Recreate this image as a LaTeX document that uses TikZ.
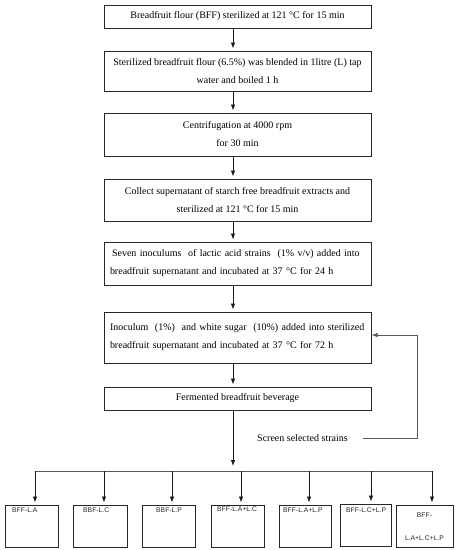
\documentclass[tikz,border=0pt]{standalone}
\usepackage{fontspec}
\setmainfont{Liberation Serif}
\newfontfamily\arialf{Liberation Sans}
\usetikzlibrary{arrows.meta}
\begin{document}
\begin{tikzpicture}[x=1pt,y=-1pt,
 mbox/.style={draw=black!85, line width=1pt, minimum width=267pt, inner sep=0pt, font=\fontsize{10}{18}\selectfont, align=center},
 lbox/.style={mbox, align=left, text width=255pt, inner xsep=6pt},
 sbox/.style={draw=black!85, line width=1pt, inner sep=0pt, minimum height=42pt},
 stxt/.style={font=\arialf\fontsize{6.8}{8}\selectfont, inner sep=0pt, text=black!85},
 arr/.style={draw=black!90, line width=0.8pt, -{Latex[length=6pt,width=4.5pt]}},
 ln/.style={draw=black!65, line width=0.8pt}]
\useasboundingbox (0,0) rectangle (458,550);
% main column
\node[mbox, minimum height=23pt] (b1) at (237.5,16.5) {Breadfruit flour (BFF) sterilized at 121 °C for 15 min};
\node[mbox, minimum height=40pt] (b2) at (237.5,71) {Sterilized breadfruit flour (6.5\%) was blended in 1litre (L) tap\\water and boiled 1 h};
\node[mbox, minimum height=43pt] (b3) at (237.5,134.5) {Centrifugation at 4000 rpm\\for 30 min};
\node[mbox, minimum height=42pt] (b4) at (237.5,200) {Collect supernatant of starch free breadfruit extracts and\\sterilized at 121 °C for 15 min};
\node[lbox, minimum height=43pt] (b5) at (237.5,263.5) {\hspace{2pt}Seven inoculums\ \ of lactic acid strains\ \ (1\% v/v) added into\\breadfruit supernatant and incubated at 37 °C for 24 h};
\node[lbox, minimum height=51pt] (b6) at (237.5,337.5) {Inoculum\ \ (1\%)\ \ and white sugar\ \ (10\%) added into sterilized\\breadfruit supernatant and incubated at 37 °C for 72 h};
\node[mbox, minimum height=23pt] (b7) at (237.5,398.5) {Fermented breadfruit beverage};
\node[font=\fontsize{10}{12}\selectfont, inner sep=0pt, anchor=west] (scr) at (257,438) {Screen selected strains};

\coordinate (ax) at (233,0);
\foreach \u/\v in {b1/b2,b2/b3,b3/b4,b4/b5,b5/b6,b6/b7}
  \draw[arr, shorten >=2pt] (\u.south -| ax) -- (\v.north -| ax);

% feedback
\coordinate (fb) at (417,438);
\draw[ln, -{Latex[length=6pt,width=4.5pt]}] ([xshift=15pt]scr.east) -- (fb) |- ([yshift=2.5pt]b6.east);

% bus
\coordinate (busL) at (35,471);
\coordinate (busR) at (432,471);
\draw[ln] (busL) -- (busR);
\draw[arr, shorten >=5pt] (b7.south -| ax) -- (ax |- busL);

% bottom boxes
\node[sbox, minimum width=53pt] (c1) at (31.5,526) {};
\node[sbox, minimum width=54pt] (c2) at (100,526) {};
\node[sbox, minimum width=53pt] (c3) at (168.5,526) {};
\node[sbox, minimum width=53pt] (c4) at (237.5,526) {};
\node[sbox, minimum width=52pt] (c5) at (305,526) {};
\node[sbox, minimum width=51pt] (c6) at (365.5,525) {};
\node[sbox, minimum width=57pt] (c7) at (424.5,526) {};

\node[stxt, anchor=west] (t1) at (12,510) {BFF-L.A};
\node[stxt, anchor=west] (t2) at (83,510) {BBF-L.C};
\node[stxt, anchor=west] (t3) at (156,510) {BBF-L.P};
\node[stxt, anchor=west] (t4) at (217,509) {BFF-L.A+L.C};
\node[stxt, anchor=west] (t5) at (283,510) {BFF-L.A+L.P};
\node[stxt, anchor=west] (t6) at (346,510) {BFF-L.C+L.P};
\node[stxt, align=center, font=\arialf\fontsize{6.8}{23}\selectfont] (t7) at (424.5,526.5) {BFF-\\L.A+L.C+L.P};

\foreach \x/\c in {35/c1,104/c2,172/c3,241/c4,309/c5,371/c6,432/c7}{
  \coordinate (a\c) at (\x,471);
  \draw[arr, shorten >=2pt] (a\c) -- (a\c |- \c.north);
}
\end{tikzpicture}
\end{document}
